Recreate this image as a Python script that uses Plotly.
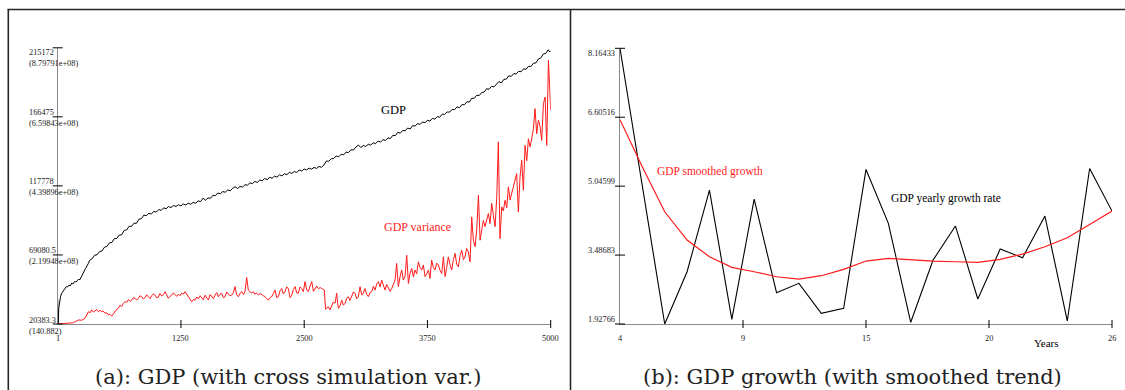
import plotly.graph_objects as go

W, H = 1125, 390

# ---------------- panel (a): GDP across simulation steps ----------------
gdp_steps = [1, 6, 12, 20, 30, 42, 60, 75, 90, 100, 115, 130, 143, 155, 170, 190, 210,
             227, 245, 261, 275, 285, 300, 311,
             325, 350, 375, 400, 425, 450, 475, 500, 525, 550, 575, 600, 625, 650, 675,
             700, 725, 750, 775, 800, 825, 850, 875, 900, 925, 950, 975, 1000, 1025,
             1050, 1075, 1100, 1125, 1150, 1175, 1200, 1225, 1250, 1275, 1300, 1325,
             1350, 1375, 1400, 1425, 1450, 1475, 1500, 1525, 1550, 1575, 1600, 1625,
             1650, 1675, 1700, 1725, 1750, 1775, 1800, 1825, 1850, 1875, 1900, 1925,
             1950, 1975, 2000, 2025, 2050, 2075, 2100, 2125, 2150, 2175, 2200, 2225,
             2250, 2275, 2300, 2325, 2350, 2375, 2400, 2425, 2450, 2475, 2500, 2525,
             2550, 2575, 2600, 2625, 2650, 2675, 2700, 2725, 2750, 2775, 2800, 2825,
             2850, 2875, 2900, 2925, 2950, 2975, 3000, 3025, 3050, 3075, 3100, 3125,
             3150, 3175, 3200, 3225, 3250, 3275, 3300, 3325, 3350, 3375, 3400, 3425,
             3450, 3475, 3500, 3525, 3550, 3575, 3600, 3625, 3650, 3675, 3700, 3725,
             3750, 3775, 3800, 3825, 3850, 3875, 3900, 3925, 3950, 3975, 4000, 4025,
             4050, 4075, 4100, 4125, 4150, 4175, 4200, 4225, 4250, 4275, 4300, 4325,
             4350, 4375, 4400, 4425, 4450, 4475, 4500, 4525, 4550, 4575, 4600, 4625,
             4650, 4675, 4700, 4725, 4750, 4775, 4800, 4825, 4850, 4875, 4900, 4925,
             4950, 4975, 4990, 5000]
gdp_level = [37500, 20383.3, 31500, 35500, 39800, 42100, 44200, 45600, 46900, 46400,
             47800, 47300, 49200, 48600, 50200, 50100, 51900, 51700, 54600, 56300,
             58500, 59700, 62400, 63000,
             65300, 66400, 68900, 69200, 71400, 71900, 74500, 75100, 77600, 77900,
             80600, 80700, 83100, 83300, 86400, 86700, 89300, 89200, 91500, 91400,
             94300, 94700, 97200, 96700, 98500, 97900, 99800, 99300, 101100, 100500,
             102300, 101700, 103200, 102500, 104000, 103200, 104500, 103700, 105000,
             104300, 105600, 104800, 106200, 105500, 107200, 106700, 109100, 107700,
             109300, 109000, 111100, 110900, 112800, 112200, 113800, 113300, 114900,
             114300, 116100, 117200, 115900, 117400, 116900, 118600, 118300, 119900,
             119400, 120900, 120200, 121900, 121400, 123000, 122200, 123800, 123200,
             124600, 124000, 125600, 124800, 126400, 125700, 127300, 126600, 127900,
             127200, 129000, 128200, 129700, 129000, 130300, 129600, 130800, 130100,
             131500, 130900, 132400, 135300, 135200, 136900, 137100, 138900, 138300,
             140100, 139700, 141600, 141300, 143300, 143100, 145200, 146600, 144800,
             146300, 145600, 147100, 146500, 148200, 147600, 149400, 148700, 150400,
             149800, 151600, 151200, 153500, 153200, 155600, 155000, 156900, 156600,
             158600, 157900, 160300, 159900, 161800, 161100, 162900, 162300, 164100,
             163500, 165400, 164900, 166600, 166200, 168400, 168200, 169900, 169800,
             171700, 171500, 173500, 172900, 175100, 175000, 177100, 176900, 179600,
             179600, 181700, 181500, 183600, 183900, 186300, 185900, 188000, 187600,
             189700, 191400, 190300, 192900, 193100, 195400, 195000, 197000, 196600,
             198600, 198300, 200400, 200000, 202100, 202000, 204300, 204500, 207300,
             208000, 210800, 211200, 213800, 212200, 213000]

# cross-simulation variance of GDP, in millions
var_steps = [1, 75, 160, 211, 245, 278, 295, 312, 330, 346, 363, 380, 397, 413, 430,
             447, 464, 481, 498, 515, 532, 549, 566, 582, 600, 616, 633, 650, 667, 684,
             701, 718, 735, 751, 768, 785, 802, 819, 836, 853, 870, 887, 904, 920, 937,
             954, 971, 988, 1004, 1020, 1038, 1056, 1072, 1089, 1106, 1123, 1140, 1157,
             1174, 1191, 1208, 1225, 1241, 1258, 1275, 1292, 1309, 1326, 1343, 1360,
             1377, 1394, 1411, 1428, 1445, 1461, 1478, 1496, 1512, 1529, 1546, 1563,
             1580, 1596, 1613, 1630, 1647, 1664, 1681, 1698, 1715, 1732, 1749, 1765,
             1782, 1799, 1816, 1833, 1850, 1867, 1884, 1900, 1917, 1934, 1951, 1968,
             1984, 2000, 2018, 2036, 2053, 2070, 2087, 2103, 2120, 2137, 2154, 2171,
             2188, 2205, 2222, 2239, 2256, 2272, 2289, 2306, 2323, 2340, 2357, 2374,
             2391, 2408, 2425, 2441, 2458, 2475, 2492, 2509, 2526, 2543, 2560, 2577,
             2594, 2610, 2628, 2645, 2662, 2678, 2692, 2705, 2712, 2719, 2732, 2746,
             2762, 2779, 2796, 2813, 2822, 2830, 2838, 2847, 2864, 2881, 2898, 2915,
             2932, 2948, 2965, 2982, 2999, 3016, 3033, 3050, 3067, 3084, 3100, 3117,
             3134, 3151, 3168, 3185, 3202, 3219, 3236, 3253, 3270, 3286, 3303, 3320,
             3337, 3354, 3371, 3388, 3405, 3422, 3438, 3455, 3472, 3489, 3506, 3523,
             3540, 3557, 3574, 3591, 3608, 3624, 3641, 3658, 3675, 3692, 3709, 3726,
             3743, 3760, 3776, 3793, 3810, 3827, 3844, 3861, 3878, 3895, 3912, 3929,
             3946, 3962, 3979, 3996, 4013, 4030, 4047, 4064, 4081, 4098, 4115, 4131,
             4148, 4165, 4182, 4199, 4216, 4233, 4250, 4267, 4284, 4300, 4317, 4334,
             4351, 4368, 4385, 4402, 4419, 4436, 4453, 4469, 4486, 4503, 4520, 4537,
             4554, 4571, 4588, 4605, 4622, 4638, 4655, 4672, 4689, 4706, 4723, 4740,
             4757, 4774, 4791, 4807, 4824, 4841, 4858, 4875, 4892, 4909, 4926, 4943,
             4960, 4977, 5000]
var_millions = [0.000141, 1, 4, 13, 12, 18, 30, 39, 36, 45, 38, 42, 46, 39, 44,
                39, 41, 34, 36, 29, 31, 25, 33, 39, 47, 50, 60, 55, 66, 71,
                69, 78, 72, 76, 84, 82, 76, 82, 90, 87, 80, 84, 93, 87, 81,
                90, 96, 92, 84, 85, 97, 89, 93, 103, 90, 82, 88, 92,
                99, 92, 88, 95, 90, 98, 95, 103, 96, 87, 80, 71,
                78, 76, 86, 80, 90, 82, 77, 92, 84, 76, 94, 89,
                81, 92, 100, 87, 95, 98, 84, 87, 102, 95, 90, 92,
                100, 119, 93, 87, 98, 103, 94, 103, 148, 108, 104, 98,
                103, 95, 99, 92, 97, 92, 90, 87, 82, 76, 84, 87,
                98, 108, 84, 87, 106, 113, 96, 103, 118, 113, 84, 92,
                110, 119, 99, 98, 118, 113, 103, 135, 108, 103, 121, 135,
                104, 113, 121, 112, 116, 113, 110, 108, 70, 47, 52, 55,
                45, 55, 70, 66, 86, 98, 70, 50, 58, 76, 60, 66,
                82, 87, 75, 87, 102, 98, 80, 87, 119, 92, 98, 113,
                95, 87, 100, 103, 120, 108, 128, 135, 118, 140, 122, 108,
                126, 113, 104, 113, 125, 140, 193, 119, 150, 172, 140, 151,
                219, 129, 162, 177, 150, 172, 160, 198, 180, 172, 188, 151,
                160, 172, 145, 204, 180, 172, 194, 188, 170, 161, 214, 151,
                180, 214, 190, 172, 205, 225, 190, 182, 218, 235, 205, 214,
                240, 230, 198, 341, 267, 246, 300, 410, 267, 299, 330, 310,
                335, 352, 320, 384, 345, 310, 405, 580, 272, 373, 360, 394,
                370, 437, 395, 416, 440, 458, 479, 357, 468, 522, 426, 569,
                520, 590, 564, 590, 620, 686, 606, 649, 630, 585, 702, 723,
                569, 840, 681]

gdp_ticks = [20383.3, 69080.5, 117778, 166475, 215172]
var_ticks = [140.882, 2.19948e8, 4.39896e8, 6.59843e8, 8.79791e8]
step_ticks = [1, 1250.75, 2500.5, 3750.25, 5000]
step_tick_text = ["1", "1250", "2500", "3750", "5000"]

# ---------------- panel (b): yearly GDP growth ----------------
years = list(range(4, 27))
growth_rate = [8.16433, 5.09, 1.92766, 3.11, 4.956, 2.034, 4.753, 2.635, 2.848, 2.170,
               2.283, 5.424, 4.204, 1.966, 3.374, 4.143, 2.493, 3.623, 3.426, 4.369,
               1.996, 5.446, 4.482]
growth_smoothed = [6.55, 5.48, 4.466, 3.826, 3.449, 3.209, 3.11, 2.997, 2.945, 3.02,
                   3.164, 3.352, 3.413, 3.374, 3.352, 3.336, 3.322, 3.39, 3.51, 3.675,
                   3.878, 4.181, 4.482]
growth_ticks = [1.92766, 3.48683, 5.04599, 6.60516, 8.16433]
year_ticks = [4, 9.5, 15, 20.5, 26]
year_tick_text = ["4", "9", "15", "20", "26"]

# ---------------- geometry (pixels) ----------------
LX = (57.7, 550.7)     # left plot area, x span
LY = (47.8, 324.0)     # left plot area, top / bottom
RX = (620.0, 1112.0)
RY = (48.3, 324.0)

SERIF = "Liberation Serif"
CAPTION = "DejaVu Serif"
AXIS_GREY = "#8a8a8a"
RED = "#ff1a1a"


def px(x):
    return x / W


def py(y):
    return 1 - y / H


fig = go.Figure()

var_values = [v * 1e6 for v in var_millions]
fig.add_trace(go.Scatter(x=var_steps, y=var_values, mode="lines", xaxis="x", yaxis="y3",
                         line=dict(color=RED, width=1)))
fig.add_trace(go.Scatter(x=gdp_steps, y=gdp_level, mode="lines", xaxis="x", yaxis="y",
                         line=dict(color="#000000", width=1)))
fig.add_trace(go.Scatter(x=years, y=growth_rate, mode="lines", xaxis="x2", yaxis="y2",
                         line=dict(color="#000000", width=1.1)))
fig.add_trace(go.Scatter(x=years, y=growth_smoothed, mode="lines", xaxis="x2", yaxis="y2",
                         line=dict(color=RED, width=1.2)))

axis_common = dict(showgrid=False, zeroline=False, showticklabels=False, ticks="",
                   showline=True, linecolor=AXIS_GREY, linewidth=1, fixedrange=True)

fig.update_layout(
    width=W, height=H, autosize=False,
    margin=dict(l=0, r=0, t=0, b=0, pad=0),
    paper_bgcolor="white", plot_bgcolor="white",
    showlegend=False,
    xaxis=dict(domain=[px(LX[0]), px(LX[1])], range=[1, 5000], anchor="y", **axis_common),
    yaxis=dict(domain=[py(LY[1]), py(LY[0])], range=[gdp_ticks[0], gdp_ticks[-1]],
               anchor="x", **axis_common),
    yaxis3=dict(domain=[py(LY[1]), py(LY[0])], range=[var_ticks[0], var_ticks[-1]],
                overlaying="y", anchor="x", visible=False),
    xaxis2=dict(domain=[px(RX[0]), px(RX[1])], range=[4, 26], anchor="y2", **axis_common),
    yaxis2=dict(domain=[py(RY[1]), py(RY[0])], range=[growth_ticks[0], growth_ticks[-1]],
                anchor="x2", **axis_common),
)

shapes = []
# frame around the two panels
frame = dict(type="line", xref="paper", yref="paper", line=dict(color="#262626", width=1.6))
shapes.append(dict(frame, x0=px(7.5), x1=1.0, y0=py(9.5), y1=py(9.5)))
shapes.append(dict(frame, x0=px(8.3), x1=px(8.3), y0=py(9.5), y1=0))
shapes.append(dict(frame, x0=px(570.5), x1=px(570.5), y0=py(9.5), y1=0))

tick_line = dict(type="line", xref="paper", yref="paper", line=dict(color="black", width=1))


def lin(v, lo, hi, a, b):
    return a + (v - lo) / (hi - lo) * (b - a)


# tick marks crossing the axis lines
for tv in step_ticks[1:]:
    xx = lin(tv, step_ticks[0], step_ticks[-1], LX[0], LX[1])
    shapes.append(dict(tick_line, x0=px(xx), x1=px(xx), y0=py(LY[1] - 4), y1=py(LY[1] + 4)))
for tv in gdp_ticks:
    yy = lin(tv, gdp_ticks[0], gdp_ticks[-1], LY[1], LY[0])
    shapes.append(dict(tick_line, x0=px(LX[0] - 5), x1=px(LX[0] + 5), y0=py(yy), y1=py(yy)))
for tv in year_ticks[1:]:
    xx = lin(tv, year_ticks[0], year_ticks[-1], RX[0], RX[1])
    shapes.append(dict(tick_line, x0=px(xx), x1=px(xx), y0=py(RY[1] - 4), y1=py(RY[1] + 4)))
for tv in growth_ticks:
    yy = lin(tv, growth_ticks[0], growth_ticks[-1], RY[1], RY[0])
    shapes.append(dict(tick_line, x0=px(RX[0] - 5), x1=px(RX[0] + 5), y0=py(yy), y1=py(yy)))
fig.update_layout(shapes=shapes)

ann = []
tick_font = dict(family=SERIF, size=8.3, color="#222222")

# left panel: x tick labels
for tv, tt in zip(step_ticks, step_tick_text):
    ann.append(dict(x=tv, xref="x", y=0, yref="y domain", text=tt, showarrow=False,
                    xanchor="center", yanchor="middle", yshift=-14, font=tick_font))
# left panel: y tick labels (GDP level, variance in brackets)
for i, (g, v) in enumerate(zip(gdp_ticks, var_ticks)):
    ann.append(dict(x=0, xref="x domain", y=g, yref="y",
                    text=f"{g:g}<br>({v:g})", showarrow=False, align="left",
                    xanchor="left", yanchor="middle", xshift=-30.5,
                    yshift=-10.5 if i == len(gdp_ticks) - 1 else -1.5, font=tick_font))
# right panel: x tick labels
for tv, tt in zip(year_ticks, year_tick_text):
    ann.append(dict(x=tv, xref="x2", y=0, yref="y2 domain", text=tt, showarrow=False,
                    xanchor="center", yanchor="middle", yshift=-14, font=tick_font))
# right panel: y tick labels
for i, tv in enumerate(growth_ticks):
    ann.append(dict(x=0, xref="x2 domain", y=tv, yref="y2", text=f"{tv:g}",
                    showarrow=False, xanchor="right", yanchor="middle", xshift=-3,
                    yshift=-5.5 if i == len(growth_ticks) - 1 else 4.5, font=tick_font))

# series labels
ann.append(dict(x=3401, xref="x", y=171250, yref="y", text="GDP", showarrow=False,
                xanchor="center", yanchor="middle",
                font=dict(family=SERIF, size=12.5, color="black")))
ann.append(dict(x=3286, xref="x", y=88590, yref="y", text="GDP variance", showarrow=False,
                xanchor="left", yanchor="middle", font=dict(family=SERIF, size=12, color=RED)))
ann.append(dict(x=5.55, xref="x2", y=5.385, yref="y2", text="GDP smoothed growth",
                showarrow=False, xanchor="left", yanchor="middle",
                font=dict(family=SERIF, size=11.5, color=RED)))
ann.append(dict(x=16.03, xref="x2", y=4.775, yref="y2", text="GDP yearly growth rate",
                showarrow=False, xanchor="left", yanchor="middle",
                font=dict(family=SERIF, size=11.5, color="black")))
ann.append(dict(x=23.05, xref="x2", y=0, yref="y2 domain", text="Years", showarrow=False,
                xanchor="center", yanchor="middle", yshift=-19,
                font=dict(family=SERIF, size=11, color="black")))

# panel captions
ann.append(dict(x=px(288), xref="paper", y=py(377), yref="paper",
                text="(a): GDP (with cross simulation var.)", showarrow=False,
                xanchor="center", yanchor="middle",
                font=dict(family=CAPTION, size=21, color="#222222")))
ann.append(dict(x=px(852), xref="paper", y=py(377), yref="paper",
                text="(b): GDP growth (with smoothed trend)", showarrow=False,
                xanchor="center", yanchor="middle",
                font=dict(family=CAPTION, size=21, color="#222222")))

fig.update_layout(annotations=ann)

fig.write_html("out.html")
